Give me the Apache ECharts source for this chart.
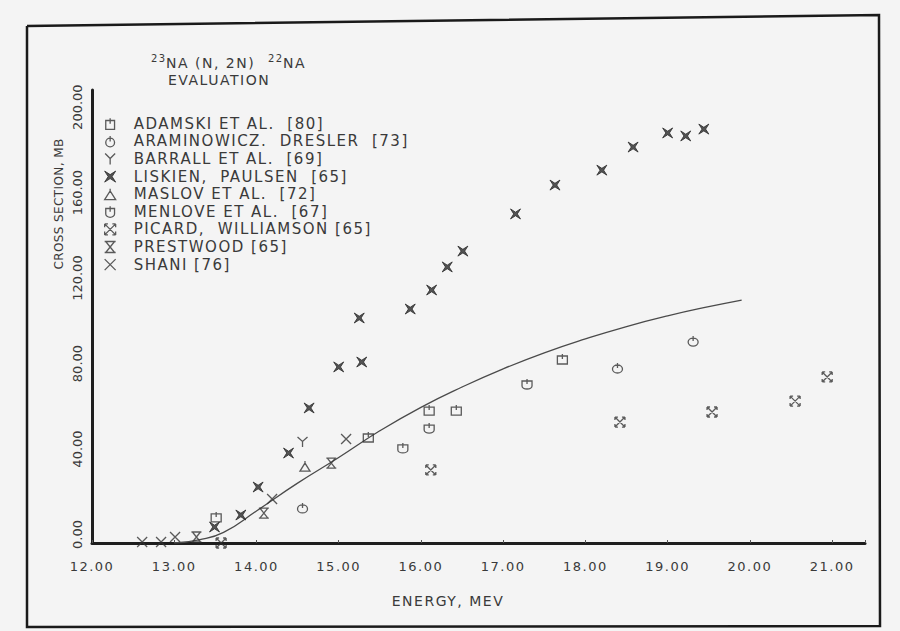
<!DOCTYPE html>
<html>
<head>
<meta charset="utf-8">
<script src="https://cdn.jsdelivr.net/npm/echarts@6/dist/echarts.min.js"></script>
<style>
  html, body { margin: 0; padding: 0; background: #f4f4f4; }
  #chart { width: 900px; height: 631px; }
</style>
</head>
<body>
<div id="chart"></div>
<script>
// Measured 23Na(n,2n)22Na cross sections: [energy MeV, cross section mb]
const adamski     = [[13.51, 12.2], [15.36, 49.6], [16.10, 62.2], [16.43, 62.2], [17.72, 86.1]];
const araminowicz = [[14.56, 16.4], [18.39, 81.9], [19.31, 94.5]];
const barrall     = [[14.56, 47.3]];
const liskien     = [[13.49, 7.5], [13.81, 13.1], [14.02, 26.2], [14.39, 42.1], [14.64, 63.2],
                     [15.00, 82.4], [15.28, 84.7], [15.25, 105.3], [15.87, 109.5], [16.13, 118.4],
                     [16.32, 129.2], [16.51, 136.6], [17.15, 154.0], [17.63, 167.5], [18.20, 174.5],
                     [18.58, 185.3], [19.00, 191.9], [19.22, 190.5], [19.44, 193.7]];
const maslov      = [[14.59, 36.0]];
const menlove     = [[15.78, 44.5], [16.10, 53.8], [17.29, 74.4]];
const picard      = [[13.57, 0.0], [16.12, 34.2], [18.42, 56.6], [19.54, 61.3], [20.55, 66.4], [20.94, 77.7]];
const prestwood   = [[13.27, 2.8], [14.09, 14.0], [14.91, 37.4]];
const shani       = [[12.61, 0.5], [12.84, 0.5], [13.01, 2.8], [14.19, 20.6], [15.09, 48.7]];

// Evaluated excitation curve
const evalEnergy = [13.0, 13.3, 13.6, 14.0, 14.5, 15.0, 15.5, 16.0, 16.5, 17.0, 17.5, 18.0, 18.5, 19.0, 19.5, 19.9];
const evalSigma  = [0.0, 1.5, 5.0, 15.0, 28.0, 40.0, 52.5, 63.5, 73.0, 81.5, 89.0, 95.5, 101.3, 106.3, 110.6, 113.7];

// Axis tick values
const energyTicks = [12, 13, 14, 15, 16, 17, 18, 19, 20, 21];
const sigmaTicks  = [0, 40, 80, 120, 160, 200];

const legendNames = [
  'ADAMSKI ET AL.  [80]',
  'ARAMINOWICZ.  DRESLER  [73]',
  'BARRALL ET AL.  [69]',
  'LISKIEN,  PAULSEN  [65]',
  'MASLOV ET AL.  [72]',
  'MENLOVE ET AL.  [67]',
  'PICARD,  WILLIAMSON [65]',
  'PRESTWOOD [65]',
  'SHANI [76]'
];

const yAxisName = 'CROSS SECTION, MB';
const xAxisName = 'ENERGY, MEV';

const ink = '#333333';
const textInk = '#3a3a3a';
const font = 'DejaVu Sans';

// plotter-style marker outlines
const marks = [
  'path://M1,2L9,2L9,10L1,10ZM5,0L5,5',                                   // Adamski
  'path://M1,6A4,4 0 1,0 9,6A4,4 0 1,0 1,6ZM5,0L5,5',                     // Araminowicz
  'path://M0,0L5,5L10,0M5,5L5,11',                                        // Barrall
  'path://M0,0L5,3.2L10,0L6.8,5L10,10L5,6.8L0,10L3.2,5Z',                 // Liskien
  'path://M0,10L5,2L10,10ZM5,0L5,4',                                      // Maslov
  'path://M1,2L9,2L9,7A4,3 0 0,1 1,7ZM5,0L5,5',                           // Menlove
  'path://M0,0L10,10M10,0L0,10M0,0L3,0M0,0L0,3M10,0L7,0M10,0L10,3M0,10L3,10M0,10L0,7M10,10L7,10M10,10L10,7', // Picard
  'path://M0,0L10,0M0,10L10,10M1,0L9,10M9,0L1,10',                         // Prestwood
  'path://M0,0L10,10M10,0L0,10'                                           // Shani
];
const filledMark = [false, false, false, true, false, false, false, false, false];
const seriesData = [adamski, araminowicz, barrall, liskien, maslov, menlove, picard, prestwood, shani];

function markStyle(filled) {
  return filled
    ? { color: '#2a2a2a', borderColor: '#2a2a2a', borderWidth: 1 }
    : { color: 'rgba(0,0,0,0)', borderColor: ink, borderWidth: 1.3 };
}

const chart = echarts.init(document.getElementById('chart'), null, { renderer: 'svg' });

const isTick = (v, list) => list.some(t => Math.abs(t - v) < 1e-9);

const scatterSeries = legendNames.map((name, i) => ({
  type: 'scatter',
  name: name,
  data: seriesData[i],
  symbol: marks[i],
  symbolSize: 10,
  itemStyle: markStyle(filledMark[i]),
  emphasis: { disabled: true },
  z: 3
}));

chart.setOption({
  backgroundColor: '#f4f4f4',
  animation: false,
  grid: { left: 92, right: 35, top: 90, bottom: 88 },
  xAxis: {
    type: 'value',
    min: 12, max: 21.4, interval: 1,
    axisLine: { lineStyle: { color: '#1e1e1e', width: 3 } },
    axisTick: { show: true, inside: true, length: 3, lineStyle: { color: '#555', width: 1 } },
    splitLine: { show: false },
    axisLabel: {
      margin: 17,
      color: textInk, fontFamily: font, fontSize: 13,
      formatter: v => (isTick(v, energyTicks) ? v.toFixed(2) : '')
    }
  },
  yAxis: {
    type: 'value',
    min: 0, max: 212, interval: 40,
    axisLine: { show: true, lineStyle: { color: '#1e1e1e', width: 3 } },
    axisTick: { show: false },
    splitLine: { show: false },
    axisLabel: {
      rotate: 90,
      margin: 8,
      padding: [0, 0, 0, 17],
      color: textInk, fontFamily: font, fontSize: 13,
      formatter: v => (isTick(v, sigmaTicks) ? v.toFixed(2) : '')
    }
  },
  legend: {
    data: legendNames.map((name, i) => ({
      name: name,
      icon: marks[i],
      itemStyle: markStyle(filledMark[i])
    })),
    orient: 'vertical',
    left: 104, top: 115,
    padding: 0,
    itemWidth: 11, itemHeight: 11,
    itemGap: 0,
    symbolKeepAspect: true,
    selectedMode: false,
    textStyle: { color: textInk, fontFamily: font, fontSize: 15, lineHeight: 17.6, padding: [0, 0, 0, 13] }
  },
  series: scatterSeries.concat([
    {
      type: 'line',
      name: 'evaluation',
      data: evalEnergy.map((e, i) => [e, evalSigma[i]]),
      smooth: 0.5,
      showSymbol: false,
      symbol: 'none',
      lineStyle: { color: '#4a4a4a', width: 1.3 },
      emphasis: { disabled: true },
      z: 2
    }
  ]),
  graphic: [
    {
      type: 'polyline',
      shape: { points: [[27, 26], [879, 15], [880, 626], [27, 627], [27, 26]] },
      style: { stroke: '#1a1a1a', lineWidth: 2.5, fill: null },
      silent: true
    },
    // title: 23NA (N, 2N) 22NA / EVALUATION
    { type: 'text', left: 151, top: 53, silent: true,
      style: { text: '23', fontSize: 10, fontFamily: font, fill: textInk } },
    { type: 'text', left: 166, top: 56, silent: true,
      style: { text: 'NA (N, 2N)', fontSize: 14, fontFamily: font, fill: textInk } },
    { type: 'text', left: 268, top: 53, silent: true,
      style: { text: '22', fontSize: 10, fontFamily: font, fill: textInk } },
    { type: 'text', left: 283, top: 56, silent: true,
      style: { text: 'NA', fontSize: 14, fontFamily: font, fill: textInk } },
    { type: 'text', left: 168, top: 73, silent: true,
      style: { text: 'EVALUATION', fontSize: 14, fontFamily: font, fill: textInk } },
    {
      type: 'text',
      x: 59, y: 204,
      rotation: Math.PI / 2,
      style: { text: yAxisName, fontSize: 12, fontFamily: font, fill: textInk,
               align: 'center', verticalAlign: 'middle' },
      silent: true
    },
    {
      type: 'text',
      x: 448, y: 601,
      style: { text: xAxisName, fontSize: 14, fontFamily: font, fill: textInk,
               align: 'center', verticalAlign: 'middle' },
      silent: true
    }
  ]
});

// widen the lettering like the pen-plotter type
const yLabels = new Set(sigmaTicks.map(v => v.toFixed(2)));
function spaceLettering() {
  document.querySelectorAll('#chart svg text').forEach(t => {
    const s = t.textContent.trim();
    let ls = '1.5px';
    if (yLabels.has(s)) ls = '0px';
    else if (s === yAxisName) ls = '0.4px';
    t.style.letterSpacing = ls;
  });
}
chart.on('finished', spaceLettering);
spaceLettering();
</script>
</body>
</html>
